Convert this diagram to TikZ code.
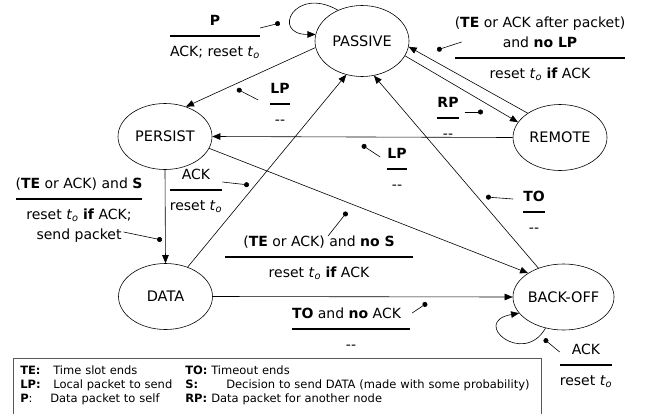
\documentclass[tikz,border=0pt]{standalone}
\usepackage{fontspec}
\setmainfont{DejaVu Sans}
\usepackage{amsmath}
\usepackage{tikz}
\usetikzlibrary{shapes.geometric,arrows.meta}

\newcommand{\tto}{\textit{t}\textsubscript{\textit{o}}}
\newcommand{\cond}[2]{{\setlength{\arrayrulewidth}{1.5pt}%
	\begin{tabular}{@{}c@{}}#1\\[4pt]\hline\rule{0pt}{20pt}#2\end{tabular}}}

\tikzset{
	state/.style={shape=ellipse, draw=black, line width=0.6pt, minimum width=94pt, minimum height=66pt, inner sep=0pt, font=\fontsize{14.5}{17}\selectfont},
	move/.style={-{Triangle[length=8pt,width=6.5pt]}, line width=0.6pt},
	lbl/.style={inner sep=0pt, font=\fontsize{14}{20}\selectfont},
	tag/.style={-{Circle[length=5pt]}, line width=0.6pt}
}

\begin{document}
\begin{tikzpicture}[x=1pt, y=1pt]
	
	\useasboundingbox (0,0) rectangle (651,-413);
	
	\node[state, minimum height=71pt] (passive) at (362,-41)     {PASSIVE};
	\node[state] (persist) at (165,-136.5)     {PERSIST};
	\node[state] (remote) at (560,-137.5)     {REMOTE};
	\node[state] (data) at (165.5,-296.5)     {DATA};
	\node[state] (backoff) at (563.5,-297)     {BACK-OFF};
	
	\draw[move] (passive.128) .. controls +(150:50) and +(180:45) .. (passive.172);
	\draw[move] (backoff.240) .. controls +(240:45) and +(190:50) .. (backoff.200);
	\path[move] (passive.188) edge (persist.55);
	\path[move] (remote.143) edge (passive.353);
	\path[move] (passive.341) edge (remote.160);
	\path[move] (remote.west) edge (persist.east);
	\path[move] (persist.south) edge (data.north);
	\path[move] (data.53) edge (passive.245);
	\path[move] (backoff.131) edge (passive.289);
	\path[move] (persist.345) edge (backoff.146);
	\path[move] (data.east) edge (backoff.west);
	
	% transition labels
	\node[lbl] (lbP) at (215,-37) {\cond{\textbf{P}}{ACK; reset \tto}};
	\node[lbl] (lbLP) at (280,-105) {\cond{\textbf{LP}}{-{}-}};
	\node[lbl] (lbTE) at (540,-49) {\cond{(\textbf{TE} or ACK after packet)\\and \textbf{no LP}}{reset \tto{} \textbf{if} ACK}};
	\node[lbl] (lbRP) at (448,-119) {\cond{\textbf{RP}}{-{}-}};
	\node[lbl] (lbLP2) at (397,-170) {\cond{\textbf{LP}}{-{}-}};
	\node[lbl] (lbTO) at (534,-213) {\cond{\textbf{TO}}{-{}-}};
	\node[lbl] (lbACK) at (196,-191) {\cond{ACK}{reset \tto}};
	\node[lbl] (lbNoS) at (319,-258) {\cond{\makebox[188pt]{(\textbf{TE} or ACK) and \textbf{no S}}}{reset \tto{} \textbf{if} ACK}};
	\node[lbl] (lbS) at (79,-210) {\cond{(\textbf{TE} or ACK) and \textbf{S}}{reset \tto{} \textbf{if} ACK;\\send packet}};
	\node[lbl] (lbNoACK) at (351,-330) {\cond{\makebox[118pt][l]{\textbf{TO} and \textbf{no} ACK}}{-{}-}};
	\node[lbl] (lbACK2) at (586,-366) {\cond{ACK}{reset \tto}};
	
	\coordinate (dP) at (280,-23);
	\coordinate (dLP) at (237,-89);
	\coordinate (dTE) at (437,-50);
	\coordinate (dRP) at (483,-112);
	\coordinate (dLP2) at (362,-145);
	\coordinate (dTO) at (486,-197);
	\coordinate (dACK) at (249,-185);
	\coordinate (dNoS) at (347,-212);
	\coordinate (dS) at (162,-240);
	\coordinate (dNoACK) at (427,-303);
	\coordinate (dACK2) at (544,-339);
	
	\draw[tag] ([yshift=9pt]lbP.east) -- (dP);
	\draw[tag] ([shift={(-12pt,5pt)}]lbLP.west) -- (dLP);
	\draw[tag] ([shift={(7pt,7pt)}]lbTE.west) -- (dTE);
	\draw[tag] ([shift={(6pt,7pt)}]lbRP.east) -- (dRP);
	\draw[tag] ([shift={(-7pt,13pt)}]lbLP2.west) -- (dLP2);
	\draw[tag] ([shift={(-10pt,14pt)}]lbTO.west) -- (dTO);
	\draw[tag] ([yshift=9pt]lbACK.east) -- (dACK);
	\draw[tag] ([shift={(9pt,-4pt)}]lbNoS.north) -- (dNoS);
	\draw[tag] ([shift={(-19pt,-22pt)}]lbS.east) -- (dS);
	\draw[tag] ([shift={(2pt,17pt)}]lbNoACK.east) -- (dNoACK);
	\draw[tag] ([yshift=14pt]lbACK2.west) -- (dACK2);
	
	% legend
	\node[draw=gray!70!black, line width=0.6pt, anchor=north west, text width=514pt, inner xsep=7pt, inner ysep=6pt, font=\fontsize{11.5}{14}\selectfont] (legend) at (13,-358) {%
		\begin{tabular}{@{}p{33pt}@{}p{132pt}@{}p{26pt}@{}l@{}}
			\textbf{TE:} & Time slot ends & \textbf{TO:} & Timeout ends\\
			\textbf{LP:} & Local packet to send & \textbf{S:} & \hspace{15pt}Decision to send DATA (made with some probability)\\
			\textbf{P}: & \hspace{-3pt}Data packet to self & \textbf{RP:} & Data packet for another node\\[4pt]
		\end{tabular}};
	
\end{tikzpicture}
\end{document}
